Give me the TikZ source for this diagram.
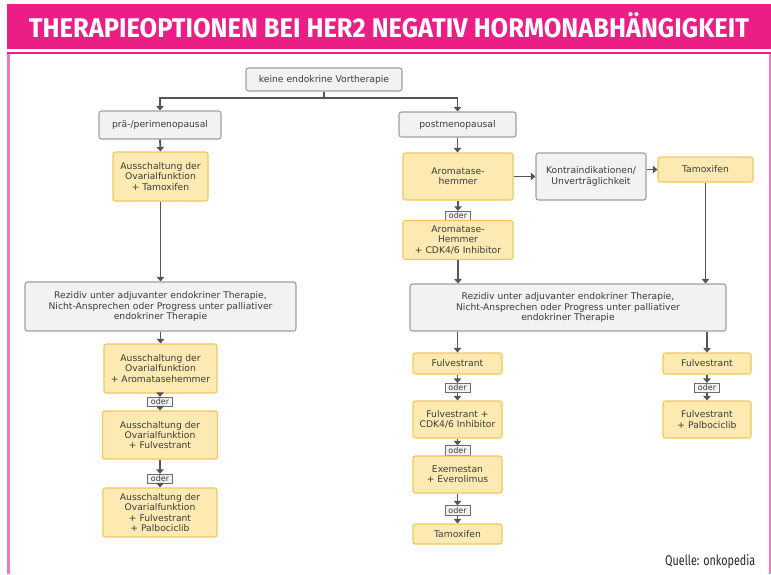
\documentclass[tikz,border=0pt]{standalone}
\usepackage{fontspec}
\setmainfont{DejaVu Sans}
\newfontfamily\titlefont{Fira Sans}
\usetikzlibrary{arrows.meta}
\definecolor{pinkH}{HTML}{EA1E85}
\definecolor{pinkL}{HTML}{F27BB5}
\definecolor{grayF}{HTML}{F2F2F2}
\definecolor{grayB}{HTML}{A0A0A0}
\definecolor{yelF}{HTML}{FCEAB2}
\definecolor{yelB}{HTML}{F0C95C}
\definecolor{txt}{HTML}{3C3C3C}
\definecolor{arrC}{HTML}{555555}
\definecolor{oderB}{HTML}{6E6E6E}
\tikzset{
  base/.style={rounded corners=2.5pt, line width=1.1pt, inner sep=0pt, align=center,
    font=\fontsize{9.2}{10.3}\selectfont, text=txt},
  graybox/.style={base, draw=grayB, fill=grayF},
  yelbox/.style={base, draw=yelB, fill=yelF},
  oderbox/.style={draw=oderB, fill=grayF, line width=0.8pt, inner sep=0pt,
    minimum width=25pt, minimum height=9.5pt, font=\fontsize{8}{8}\selectfont, text=txt},
  ln/.style={draw=arrC, line width=1.8pt},
  arr/.style={ln, -{Triangle[width=7.5pt,length=4.5pt]}},
  sz/.style 2 args={minimum width=#1pt, minimum height=#2pt},
}
\begin{document}
\begin{tikzpicture}[x=1pt,y=-1pt]
\useasboundingbox (0,0) rectangle (771,574);
\fill[white] (0,0) rectangle (771,574);
% header
\fill[pinkH] (7,4) rectangle (771,49);
\node[text=white, inner sep=0pt, anchor=base] (title) at (389,37)
  {\resizebox{720pt}{25pt}{\titlefont\bfseries THERAPIEOPTIONEN BEI HER2 NEGATIV HORMONABHÄNGIGKEIT}};
% frame
\draw[pinkL, line width=2.5pt] (8.5,53) -- (8.5,574);
\draw[pinkL, line width=2pt] (769.5,53) -- (769.5,574);
\draw[pinkH, line width=1.5pt] (7,53) -- (771,53);

% top
\node[graybox, sz={156}{23}] (keine) at (324,79.5) {keine endokrine Vortherapie};
\node[graybox, sz={122}{28}] (prae) at (160,125) {prä-/perimenopausal};
\node[graybox, sz={117}{25}] (post) at (457.5,124.5) {postmenopausal};

% left branch
\node[yelbox, sz={95}{49}] (ausTam) at (160.5,176.5) {Ausschaltung der\\Ovarialfunktion\\+ Tamoxifen};
\node[graybox, sz={271}{49}] (rezL) at (160.5,306.5) {Rezidiv unter adjuvanter endokriner Therapie,\\Nicht-Ansprechen oder Progress unter palliativer\\endokriner Therapie};
\node[yelbox, sz={113}{49}] (ausArom) at (160.5,368.5) {Ausschaltung der\\Ovarialfunktion\\+ Aromatasehemmer};
\node[oderbox] (oderL1) at (160,402) {oder};
\node[yelbox, sz={115}{48}] (ausFul) at (160,435) {Ausschaltung der\\Ovarialfunktion\\+ Fulvestrant};
\node[oderbox] (oderL2) at (160,479) {oder};
\node[yelbox, sz={114}{49}] (ausPal) at (160,512.5) {Ausschaltung der\\Ovarialfunktion\\+ Fulvestrant\\+ Palbociclib};

% right branch
\node[yelbox, sz={110}{47}] (arom) at (458,176.5) {Aromatase-\\hemmer};
\node[graybox, sz={110}{47}] (kontra) at (591,176.5) {Kontraindikationen/\\Unverträglichkeit};
\node[yelbox, sz={95}{25}] (tamR) at (705.5,169.5) {Tamoxifen};
\node[oderbox] (oderA) at (458,216) {oder};
\node[yelbox, sz={110}{39}] (aromCDK) at (458,240) {Aromatase-\\Hemmer\\+ CDK4/6 Inhibitor};
\node[graybox, sz={316}{47}] (rezR) at (568,307.5) {Rezidiv unter adjuvanter endokriner Therapie,\\Nicht-Ansprechen oder Progress unter palliativer\\endokriner Therapie};
\node[yelbox, sz={89}{21}] (fulM) at (457.5,363.5) {Fulvestrant};
\node[oderbox] (oderM1) at (457.5,388) {oder};
\node[yelbox, sz={89}{37}] (fulCDK) at (457.5,419.5) {Fulvestrant +\\CDK4/6 Inhibitor};
\node[oderbox] (oderM2) at (457.5,450.5) {oder};
\node[yelbox, sz={89}{37}] (exe) at (457.5,474.5) {Exemestan\\+ Everolimus};
\node[oderbox] (oderM3) at (457.5,510.5) {oder};
\node[yelbox, sz={89}{20}] (tamB) at (457.5,534) {Tamoxifen};
\node[yelbox, sz={88}{21}] (fulR) at (707,363.5) {Fulvestrant};
\node[oderbox] (oderR) at (707,388) {oder};
\node[yelbox, sz={88}{37}] (fulPal) at (707,419.5) {Fulvestrant\\+ Palbociclib};

% source
\node[inner sep=0pt, anchor=base west, text=black!85] (quelle) at (665,565)
  {\resizebox{90pt}{11pt}{\titlefont Quelle: onkopedia}};

% connectors
\coordinate (split) at (324,98);
\draw[ln] (keine.south) -- (split);
\draw[arr] (split) -| (prae.north);
\draw[arr] (split) -| (post.north);
\draw[arr] (prae.south) -- (ausTam.north);
\draw[arr] (ausTam.south) -- (ausTam.south |- rezL.north);
\draw[arr] (rezL.south -| ausArom.north) -- (ausArom.north);
\draw[arr] (ausArom.south) -- (ausArom.south -| oderL1.north) -- (oderL1.north);
\draw[arr] (oderL1.south) -- (ausFul.north -| oderL1.south);
\draw[arr] (ausFul.south) -- (ausFul.south -| oderL2.north) -- (oderL2.north);
\draw[arr] (oderL2.south) -- (ausPal.north -| oderL2.south);

\draw[arr] (post.south) -- (arom.north -| post.south);
\draw[arr] (arom.east) -- (kontra.west);
\draw[arr] (kontra.east |- tamR.west) -- (tamR.west);
\draw[arr] (arom.south) -- (oderA.north);
\draw[arr] (aromCDK.south) -- (aromCDK.south |- rezR.north);
\draw[arr] (tamR.south) -- (tamR.south |- rezR.north);
\draw[arr] (rezR.south -| fulM.north) -- (fulM.north);
\draw[arr] (rezR.south -| fulR.north) -- (fulR.north);
\draw[arr] (fulM.south) -- (oderM1.north);
\draw[arr] (oderM1.south) -- (fulCDK.north);
\draw[arr] (fulCDK.south) -- (oderM2.north);
\draw[arr] (exe.south) -- (oderM3.north);
\draw[arr] (oderM3.south) -- (tamB.north);
\draw[arr] (fulR.south) -- (oderR.north);
\draw[arr] (oderR.south) -- (fulPal.north);
\end{tikzpicture}
\end{document}
